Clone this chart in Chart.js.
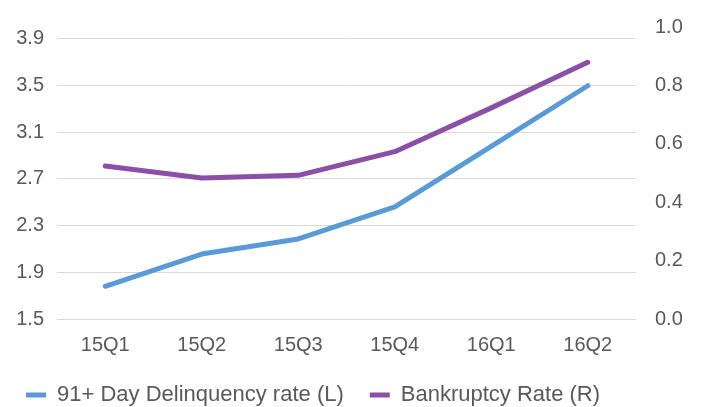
<!DOCTYPE html>
<html>
<head>
<meta charset="utf-8">
<script src="https://cdn.jsdelivr.net/npm/chart.js@4/dist/chart.umd.min.js"></script>
<style>
html,body{margin:0;padding:0;background:#fff;}
#wrap{width:701px;height:407px;position:relative;}
</style>
</head>
<body>
<div id="wrap"><canvas id="c" width="701" height="407"></canvas></div>
<script>
const categories = ['15Q1','15Q2','15Q3','15Q4','16Q1','16Q2'];
const delinquencyRate = [1.78, 2.056, 2.185, 2.459, 2.978, 3.497];
const bankruptcyRate = [0.524, 0.483, 0.492, 0.573, 0.723, 0.879];
const seriesNames = ['91+ Day Delinquency rate (L)', 'Bankruptcy Rate (R)'];
const leftTicks = [1.5, 1.9, 2.3, 2.7, 3.1, 3.5, 3.9];
const rightTicks = [0.0, 0.2, 0.4, 0.6, 0.8, 1.0];

const FONT = {family: "'Liberation Sans', Arial, sans-serif", size: 20};
const LEGEND_FONT = {family: "'Liberation Sans', Arial, sans-serif", size: 22};
const GRAY = '#595959';

new Chart(document.getElementById('c'), {
  type: 'line',
  data: {
    labels: categories,
    datasets: [
      {label: seriesNames[0], data: delinquencyRate, yAxisID: 'yL',
       borderColor: '#5B9BD5', backgroundColor: '#5B9BD5', borderWidth: 5,
       pointRadius: 0, tension: 0, borderCapStyle: 'round', borderJoinStyle: 'round',
       pointStyle: 'line'},
      {label: seriesNames[1], data: bankruptcyRate, yAxisID: 'yR',
       borderColor: '#8B4FA5', backgroundColor: '#8B4FA5', borderWidth: 5,
       pointRadius: 0, tension: 0, borderCapStyle: 'round', borderJoinStyle: 'round',
       pointStyle: 'line'}
    ]
  },
  options: {
    responsive: false,
    animation: false,
    layout: {padding: {top: 27, left: 0, right: 0, bottom: 0}},
    plugins: {
      tooltip: {enabled: false},
      legend: {
        position: 'bottom',
        align: 'start',
        maxHeight: 49,
        labels: {
          font: LEGEND_FONT, color: GRAY, usePointStyle: true, pointStyleWidth: 20,
          boxHeight: 5, padding: 26
        }
      }
    },
    scales: {
      x: {
        offset: true,
        grid: {display: false, drawTicks: false},
        border: {display: false},
        afterFit: (s) => { s.height = 39; },
        ticks: {font: FONT, color: GRAY, padding: 14, maxRotation: 0}
      },
      yL: {
        position: 'left',
        min: 1.5, max: 4.0,
        afterBuildTicks: (s) => { s.ticks = leftTicks.map(v => ({value: v})); },
        afterFit: (s) => { s.width = 57; s.paddingTop = 0; s.paddingBottom = 0; },
        grid: {color: '#D9D9D9', lineWidth: 1, drawTicks: false},
        border: {display: false},
        ticks: {font: FONT, color: GRAY, padding: 13,
                callback: (v) => Number(v).toFixed(1)}
      },
      yR: {
        position: 'right',
        min: 0, max: 1.0,
        afterBuildTicks: (s) => { s.ticks = rightTicks.map(v => ({value: v})); },
        afterFit: (s) => { s.width = 65; s.paddingTop = 0; s.paddingBottom = 0; },
        grid: {display: false, drawTicks: false},
        border: {display: false},
        ticks: {font: FONT, color: GRAY, padding: 19,
                callback: (v) => Number(v).toFixed(1)}
      }
    }
  }
});
</script>
</body>
</html>
